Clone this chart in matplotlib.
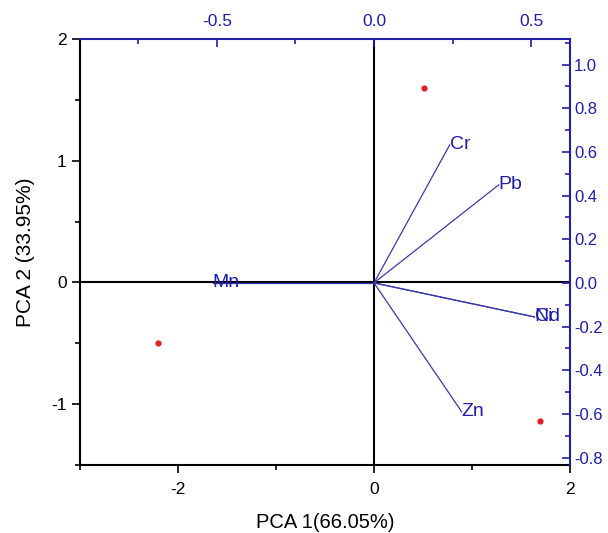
import matplotlib
matplotlib.use("Agg")
import matplotlib.pyplot as plt
from matplotlib.ticker import MultipleLocator

plt.rcParams['font.family'] = ['Liberation Sans', 'DejaVu Sans']

# Scores (bottom/left axes)
score_x = [0.51, -2.20, 1.69]
score_y = [1.60, -0.50, -1.14]

# Loadings (top/right axes)
load_names = ["Cr", "Pb", "Cd", "Ni", "Zn", "Mn"]
load_x = [0.241, 0.397, 0.511, 0.511, 0.279, -0.514]
load_y = [0.632, 0.449, -0.156, -0.156, -0.590, 0.0]

blue = "#1f1fa8"
line_blue = "#3a3aa8"

fig = plt.figure(figsize=(6.08, 5.33), dpi=100)
pos = [0.1316, 0.1276, 0.8059, 0.7992]
ax = fig.add_axes(pos)
ax.set_xlim(-3, 2)
ax.set_ylim(-1.5, 2)
ax.axhline(0, color='black', lw=1.5, zorder=1)
ax.axvline(0, color='black', lw=1.5, zorder=1)
ax.scatter(score_x, score_y, s=12, color='#e02020', zorder=3)
ax.xaxis.set_major_locator(MultipleLocator(2))
ax.xaxis.set_minor_locator(MultipleLocator(1))
ax.yaxis.set_major_locator(MultipleLocator(1))
ax.yaxis.set_minor_locator(MultipleLocator(0.5))
ax.tick_params(which='major', direction='out', length=6, width=1.2, labelsize=12.5)
ax.tick_params(which='minor', direction='out', length=3.5, width=1.2)
ax.tick_params(axis='x', pad=6)
ax.spines['top'].set_visible(False)
ax.spines['right'].set_visible(False)
for s in ['left', 'bottom']:
    ax.spines[s].set_linewidth(1.5)
ax.set_xlabel("PCA 1(66.05%)", fontsize=14.5, labelpad=12)
ax.set_ylabel("PCA 2 (33.95%)", fontsize=15, labelpad=12)
ax.xaxis.set_major_formatter(plt.FuncFormatter(lambda v, p: f"{v:g}"))
ax.yaxis.set_major_formatter(plt.FuncFormatter(lambda v, p: f"{v:g}"))

ax2 = fig.add_axes(pos, frameon=True)
ax2.patch.set_visible(False)
ax2.set_xlim(-0.936, 0.624)
ax2.set_ylim(-0.834, 1.117)
ax2.xaxis.tick_top()
ax2.yaxis.tick_right()
ax2.spines['left'].set_visible(False)
ax2.spines['bottom'].set_visible(False)
for s in ['top', 'right']:
    ax2.spines[s].set_color(blue)
    ax2.spines[s].set_linewidth(1.5)
ax2.xaxis.set_major_locator(MultipleLocator(0.5))
ax2.xaxis.set_minor_locator(MultipleLocator(0.25))
ax2.yaxis.set_major_locator(MultipleLocator(0.2))
ax2.yaxis.set_minor_locator(MultipleLocator(0.1))
ax2.xaxis.set_major_formatter(plt.FuncFormatter(lambda v, p: f"{v:.1f}"))
ax2.yaxis.set_major_formatter(plt.FuncFormatter(lambda v, p: f"{v:.1f}"))
ax2.tick_params(which='major', direction='in', length=6, width=1.2, colors=blue, labelsize=12.5)
ax2.tick_params(which='minor', direction='in', length=3.5, width=1.2, colors=blue)
ax2.tick_params(axis='y', pad=3, labelsize=12)
ax2.tick_params(axis='x', pad=7)

for name, lx, ly in zip(load_names, load_x, load_y):
    ax2.plot([0, lx], [0, ly], color=line_blue, lw=0.9, zorder=2)
    ax2.text(lx, ly, name, color=blue, fontsize=14, ha='left', va='center')

fig.savefig("out.png", dpi=100)
